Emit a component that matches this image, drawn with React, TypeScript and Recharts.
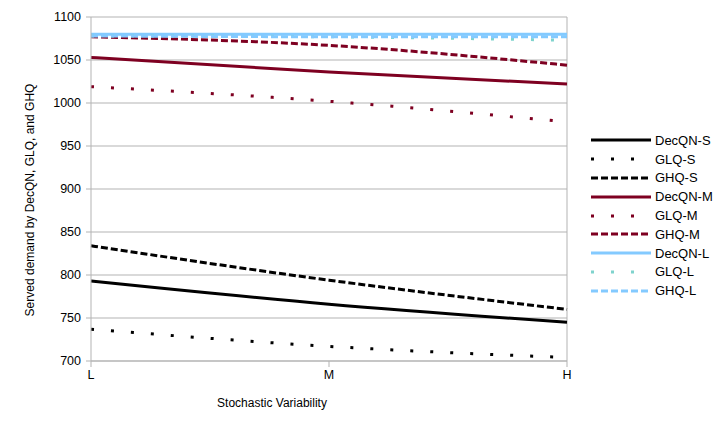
import React from 'react';
import { CartesianGrid, Legend, Line, LineChart, ReferenceLine, XAxis, YAxis } from 'recharts';

const categories = ['L', 'M', 'H'];

const decqnS = [793, 766, 745];
const glqS = [737, 717, 704];
const ghqS = [834, 794, 760];
const decqnM = [1053, 1036, 1022];
const glqM = [1019, 1002, 978];
const ghqM = [1077, 1067, 1044];
const decqnL = [1080, 1080, 1080];
const glqL = [1078, 1077, 1073];
const ghqL = [1078, 1077, 1077];

const yTicks = [700, 750, 800, 850, 900, 950, 1000, 1050, 1100];

const DOTTED = '3 17';
const DASHED = '7 3';

const series = [
  { key: 'DecQN-S', values: decqnS, color: '#000000', dash: undefined },
  { key: 'GLQ-S', values: glqS, color: '#000000', dash: DOTTED },
  { key: 'GHQ-S', values: ghqS, color: '#000000', dash: DASHED },
  { key: 'DecQN-M', values: decqnM, color: '#7e0021', dash: undefined },
  { key: 'GLQ-M', values: glqM, color: '#7e0021', dash: DOTTED },
  { key: 'GHQ-M', values: ghqM, color: '#7e0021', dash: DASHED },
  { key: 'DecQN-L', values: decqnL, color: '#83caff', dash: undefined },
  { key: 'GLQ-L', values: glqL, color: '#7fd3cd', dash: DOTTED },
  { key: 'GHQ-L', values: ghqL, color: '#83caff', dash: DASHED },
];

const data = categories.map((name, i) => {
  const row: Record<string, string | number> = { name };
  series.forEach((s) => {
    row[s.key] = s.values[i];
  });
  return row;
});

const FONT = '"Liberation Sans", Arial, sans-serif';
const GRID = '#b3b3b3';

const LegendBox = () => (
  <div style={{ fontFamily: FONT, fontSize: 13, color: '#000' }}>
    {series.map((s) => (
      <div key={s.key} style={{ display: 'flex', alignItems: 'center', height: 18.8 }}>
        <svg width={62} height={6} style={{ display: 'block' }}>
          <line x1={1} y1={3} x2={61} y2={3} stroke={s.color} strokeWidth={3} strokeDasharray={s.dash} />
        </svg>
        <span style={{ marginLeft: 3 }}>{s.key}</span>
      </div>
    ))}
  </div>
);

const App = () => {
  return (
    <div style={{ position: 'absolute', left: 0, top: 0, width: 725, height: 432, background: '#fff', fontFamily: FONT }}>
      <LineChart width={725} height={432} data={data} margin={{ top: 17, right: 158, left: 0, bottom: 41 }}>
        <CartesianGrid vertical={false} stroke={GRID} strokeWidth={1} />
        <XAxis
          dataKey="name"
          height={30}
          stroke={GRID}
          tickSize={6}
          tickMargin={3}
          tick={{ fill: '#000', fontSize: 12.5, fontFamily: FONT }}
        />
        <YAxis
          width={91}
          domain={[700, 1100]}
          ticks={yTicks}
          interval={0}
          stroke={GRID}
          tickSize={5}
          tickMargin={5}
          tick={{ fill: '#000', fontSize: 12.5, fontFamily: FONT }}
        />
        <ReferenceLine x="H" stroke={GRID} strokeWidth={1} />
        {series.map((s) => (
          <Line
            key={s.key}
            type="natural"
            dataKey={s.key}
            stroke={s.color}
            strokeWidth={3}
            strokeDasharray={s.dash}
            strokeLinecap="butt"
            dot={false}
            activeDot={false}
            isAnimationActive={false}
          />
        ))}
        <Legend
          layout="vertical"
          align="center"
          verticalAlign="middle"
          content={() => <LegendBox />}
          wrapperStyle={{ position: 'absolute', left: 590, top: 131, width: 130 }}
        />
      </LineChart>
      <div
        style={{
          position: 'absolute',
          left: 172,
          top: 396,
          width: 200,
          textAlign: 'center',
          fontSize: 12,
          color: '#000',
        }}
      >
        Stochastic Variability
      </div>
      <div
        style={{
          position: 'absolute',
          left: 30,
          top: 200,
          width: 300,
          textAlign: 'center',
          fontSize: 12,
          lineHeight: '14px',
          color: '#000',
          whiteSpace: 'nowrap',
          transform: 'translate(-50%, -50%) rotate(-90deg)',
        }}
      >
        Served demand by DecQN, GLQ, and GHQ
      </div>
    </div>
  );
};

export default App;
